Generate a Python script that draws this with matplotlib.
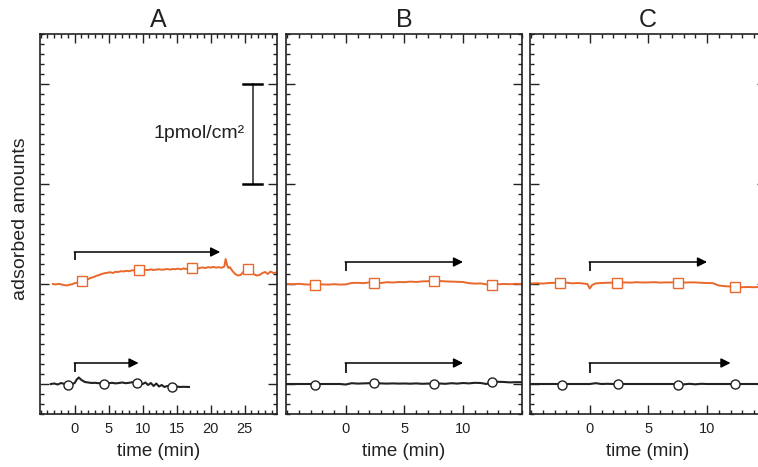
import matplotlib
matplotlib.use("Agg")
import matplotlib.pyplot as plt
from matplotlib.ticker import MultipleLocator

plt.rcParams["font.family"] = ["Liberation Sans", "DejaVu Sans"]

ORANGE = "#e8682c"
DARK = "#222222"

# ---- panel A ----
A_or_t = [-3.2, -2.8, -2.4, -2.0, -1.6, -1.2, -0.8, -0.4, 0.0, 0.4, 0.8, 1.2, 1.6, 2.0, 2.4,
          2.8, 3.2, 3.6, 4.0, 4.4, 4.8, 5.2, 5.6, 6.0, 6.4, 6.8, 7.2, 7.6, 8.0, 8.4, 8.8, 9.2,
          9.6, 10.0, 10.4, 10.8, 11.2, 11.6, 12.0, 12.4, 12.8, 13.2, 13.6, 14.0, 14.4, 14.8,
          15.2, 15.6, 16.0, 16.4, 16.8, 17.2, 17.6, 18.0, 18.4, 18.8, 19.2, 19.6, 20.0, 20.4,
          20.8, 21.2, 21.6, 22.0, 22.2, 22.4, 22.6, 22.8, 23.2, 23.6, 24.0, 24.4, 24.8, 25.2,
          25.6, 26.0, 26.4, 26.8, 27.2, 27.6, 28.0, 28.4, 28.8, 29.2, 29.7]
A_or_y = [1.000, 0.995, 1.002, 0.996, 0.990, 0.985, 0.992, 0.997, 1.008, 1.015, 1.022, 1.030,
          1.038, 1.050, 1.062, 1.070, 1.082, 1.090, 1.100, 1.108, 1.112, 1.118, 1.110, 1.122,
          1.120, 1.128, 1.125, 1.132, 1.128, 1.136, 1.138, 1.140, 1.145, 1.138, 1.142, 1.140,
          1.146, 1.140, 1.144, 1.148, 1.142, 1.146, 1.150, 1.144, 1.150, 1.148, 1.154, 1.146,
          1.156, 1.150, 1.160, 1.158, 1.160, 1.150, 1.162, 1.165, 1.160, 1.168, 1.165, 1.170,
          1.164, 1.168, 1.162, 1.175, 1.250, 1.190, 1.160, 1.170, 1.130, 1.100, 1.085, 1.090,
          1.120, 1.150, 1.155, 1.130, 1.095, 1.085, 1.090, 1.110, 1.120, 1.100, 1.125, 1.110,
          1.115]
A_sq_t = [1.1, 9.4, 17.3, 25.5]
A_sq_y = [1.033, 1.140, 1.160, 1.150]

A_bk_t = [-3.5, -3.0, -2.5, -2.0, -1.5, -1.0, -0.5, 0.0, 0.3, 0.6, 1.0, 1.5, 2.0, 2.5, 3.0,
          3.5, 4.0, 4.5, 5.0, 5.5, 6.0, 6.5, 7.0, 7.5, 8.0, 8.5, 9.0, 9.5, 10.0, 10.4, 10.8,
          11.2, 11.6, 12.0, 12.4, 12.8, 13.2, 13.6, 14.0, 14.5, 15.0, 15.5, 16.0, 16.8]
A_bk_y = [0.000, 0.005, -0.005, 0.010, 0.000, -0.010, -0.005, 0.010, 0.045, 0.065, 0.040,
          0.020, 0.015, 0.010, 0.012, 0.008, 0.010, 0.005, 0.008, 0.012, 0.006, 0.010, 0.015,
          0.008, 0.012, 0.018, 0.015, 0.010, 0.000, 0.015, -0.010, 0.010, -0.020, 0.005,
          -0.025, -0.010, -0.030, -0.020, -0.025, -0.030, -0.025, -0.030, -0.028, -0.030]
A_ci_t = [-1.0, 4.3, 9.2, 14.3]
A_ci_y = [-0.010, 0.000, 0.012, -0.030]

# ---- panels B and C share a time grid ----
BC_t = [-5.0, -4.5, -4.0, -3.5, -3.0, -2.5, -2.0, -1.5, -1.0, -0.5, 0.0, 0.5, 1.0, 1.5, 2.0,
        2.5, 3.0, 3.5, 4.0, 4.5, 5.0, 5.5, 6.0, 6.5, 7.0, 7.5, 8.0, 8.5, 9.0, 9.5, 10.0, 10.5,
        11.0, 11.5, 12.0, 12.5, 13.0, 13.5, 14.0, 14.5, 15.0]

B_or_y = [1.000, 0.998, 1.002, 0.996, 0.994, 0.992, 0.996, 0.994, 0.998, 0.994, 0.996, 1.010,
          1.012, 1.008, 1.016, 1.014, 1.010, 1.018, 1.015, 1.020, 1.018, 1.024, 1.020, 1.026,
          1.028, 1.034, 1.030, 1.026, 1.024, 1.022, 1.020, 1.008, 1.004, 1.006, 0.996, 0.992,
          0.998, 1.000, 0.998, 1.002, 1.000]
B_sq_t = [-2.6, 2.4, 7.5, 12.5]
B_sq_y = [0.990, 1.013, 1.033, 0.990]
B_bk_y = [0.000, 0.000, 0.000, 0.000, 0.000, -0.002, 0.000, 0.000, 0.000, 0.000, -0.005,
          0.008, 0.004, 0.006, 0.008, 0.010, 0.006, 0.004, 0.006, 0.004, 0.005, 0.003, 0.006,
          0.002, 0.004, 0.003, 0.005, 0.002, 0.008, 0.004, 0.010, 0.006, 0.012, 0.010, 0.000,
          0.028, 0.022, 0.020, 0.016, 0.018, 0.018]
B_ci_t = [-2.6, 2.4, 7.5, 12.5]
B_ci_y = [-0.005, 0.010, 0.000, 0.025]

C_or_t = [-5.0, -4.5, -4.0, -3.5, -3.0, -2.5, -2.0, -1.5, -1.0, -0.5, -0.2, 0.0, 0.2, 0.5,
          1.0, 1.5, 2.0, 2.5, 3.0, 3.5, 4.0, 4.5, 5.0, 5.5, 6.0, 6.5, 7.0, 7.5, 8.0, 8.5, 9.0,
          9.5, 10.0, 10.5, 11.0, 11.5, 12.0, 12.5, 13.0, 13.5, 14.0, 14.5, 15.0]
C_or_y = [1.005, 1.008, 1.004, 1.010, 1.012, 1.010, 1.014, 1.006, 1.010, 1.004, 1.000, 0.955,
          0.990, 1.006, 1.010, 1.012, 1.014, 1.012, 1.016, 1.014, 1.018, 1.015, 1.016, 1.018,
          1.014, 1.016, 1.016, 1.018, 1.014, 1.016, 1.016, 1.012, 1.010, 1.008, 0.985, 0.978,
          0.975, 0.970, 0.968, 0.970, 0.968, 0.970, 0.968]
C_sq_t = [-2.5, 2.3, 7.5, 12.4]
C_sq_y = [1.010, 1.010, 1.013, 0.970]
C_bk_y = [0.000, 0.000, 0.000, 0.000, 0.000, 0.000, 0.000, 0.000, 0.000, 0.000, 0.000,
          0.008, 0.000, 0.002, 0.000, 0.000, 0.000, 0.000, 0.000, 0.000, 0.000, 0.000, 0.000,
          0.000, 0.000, 0.000, -0.004, 0.002, -0.003, 0.002, 0.000, 0.000, 0.000, 0.000, 0.000,
          0.000, 0.000, 0.000, 0.000, 0.000, 0.000]
C_ci_t = [-2.4, 2.4, 7.5, 12.4]
C_ci_y = [-0.005, 0.000, -0.008, 0.005]

# arrows: (start time, y bottom, y top, end time)
A_arrows = [(0, 1.24, 1.32, 21.4), (0, 0.12, 0.21, 9.4)]
B_arrows = [(0, 1.13, 1.22, 10.0), (0, 0.11, 0.21, 10.0)]
C_arrows = [(0, 1.13, 1.22, 10.0), (0, 0.11, 0.21, 12.0)]

A_ticks = [0, 5, 10, 15, 20, 25]
BC_ticks = [0, 5, 10]

panels = [
    ("A", (-5.1, 29.75), A_ticks, A_or_t, A_or_y, A_sq_t, A_sq_y, A_bk_t, A_bk_y, A_ci_t, A_ci_y, A_arrows),
    ("B", (-5.1, 15.0), BC_ticks, BC_t, B_or_y, B_sq_t, B_sq_y, BC_t, B_bk_y, B_ci_t, B_ci_y, B_arrows),
    ("C", (-5.1, 15.0), BC_ticks, C_or_t, C_or_y, C_sq_t, C_sq_y, BC_t, C_bk_y, C_ci_t, C_ci_y, C_arrows),
]
# left, width in pixels (C runs past the right edge, as in the original)
boxes = [(40, 237), (286, 235.7), (530, 235.7)]

W, H = 758, 467
fig = plt.figure(figsize=(W / 100, H / 100), dpi=100)

for (name, xlim, ticks, ot, oy, st, sy, bt, by, ct, cy, arrows), (left, width) in zip(panels, boxes):
    ax = fig.add_axes([left / W, 53 / H, width / W, 380 / H])
    ax.plot(ot, oy, color=ORANGE, lw=1.4, zorder=2)
    ax.plot(st, sy, "s", ms=6.5, mfc="white", mec=ORANGE, mew=1.0, zorder=3)
    ax.plot(bt, by, color=DARK, lw=1.5, zorder=2)
    ax.plot(ct, cy, "o", ms=6.5, mfc="white", mec=DARK, mew=1.0, zorder=3)

    for t0, ylo, yhi, t1 in arrows:
        ax.plot([t0, t0], [ylo, yhi], color="black", lw=1.2, solid_capstyle="butt")
        ax.annotate("", xy=(t1, yhi), xytext=(t0 - 0.05, yhi),
                    arrowprops=dict(arrowstyle="-|>", color="black", lw=1.1,
                                    mutation_scale=14, shrinkA=0, shrinkB=0))

    ax.set_xlim(*xlim)
    ax.set_ylim(-0.3, 3.5)
    ax.xaxis.set_minor_locator(MultipleLocator(1))
    ax.yaxis.set_major_locator(MultipleLocator(1))
    ax.yaxis.set_minor_locator(MultipleLocator(0.1))
    ax.set_xticks(ticks)
    ax.tick_params(which="both", direction="in", top=True, right=True, width=1.0,
                   labelleft=False, labelsize=10.5, pad=6, colors="#222222")
    ax.tick_params(which="major", length=6.5)
    ax.tick_params(which="minor", length=3)
    for s in ax.spines.values():
        s.set_linewidth(1.2)
        s.set_color("#222222")
    ax.set_xlabel("time (min)", fontsize=13.5, color="#222222", labelpad=5)
    ax.set_title(name, fontsize=18, color="#222222", pad=5)

    if name == "A":
        ax.set_ylabel("adsorbed amounts", fontsize=14, color="#222222")
        ax.yaxis.set_label_coords(-0.045, 0.515)
        # 1 pmol/cm2 scale bar
        bar_t, bar_lo, bar_hi, cap = 26.2, 2.0, 3.0, 1.4
        ax.plot([bar_t, bar_t], [bar_lo, bar_hi], color="#333333", lw=1.2)
        for yb in (bar_lo, bar_hi):
            ax.plot([bar_t - cap, bar_t + cap], [yb, yb], color="black", lw=1.8)
        ax.text(25.0, 2.5, "1pmol/cm²", ha="right", va="center", fontsize=14,
                color="#222222")

fig.savefig("out.png", dpi=100)
